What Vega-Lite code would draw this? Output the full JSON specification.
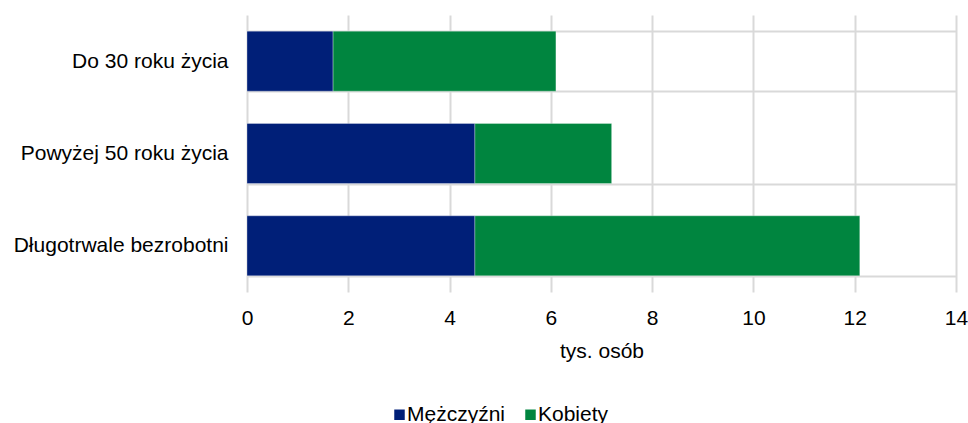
{
  "$schema": "https://vega.github.io/schema/vega-lite/v6.json",
  "autosize": {"type": "none"},
  "width": 709,
  "height": 277,
  "padding": {"left": 247, "top": 15, "right": 12, "bottom": 131},
  "background": "white",
  "config": {
    "font": "Liberation Sans",
    "view": {"stroke": null},
    "axis": {"labelFont": "Liberation Sans", "titleFont": "Liberation Sans", "labelColor": "#000000", "titleColor": "#000000"}
  },
  "data": {
    "values": [
      {"kategoria": "Do 30 roku życia", "płeć": "Mężczyźni", "wartość": 1.7, "kolejność": 0},
      {"kategoria": "Do 30 roku życia", "płeć": "Kobiety", "wartość": 4.4, "kolejność": 1},
      {"kategoria": "Powyżej 50 roku życia", "płeć": "Mężczyźni", "wartość": 4.5, "kolejność": 0},
      {"kategoria": "Powyżej 50 roku życia", "płeć": "Kobiety", "wartość": 2.7, "kolejność": 1},
      {"kategoria": "Długotrwale bezrobotni", "płeć": "Mężczyźni", "wartość": 4.5, "kolejność": 0},
      {"kategoria": "Długotrwale bezrobotni", "płeć": "Kobiety", "wartość": 7.6, "kolejność": 1}
    ]
  },
  "mark": {"type": "bar", "stroke": "white", "strokeWidth": 0.5, "strokeOpacity": 0.6},
  "encoding": {
    "y": {
      "field": "kategoria",
      "type": "nominal",
      "sort": ["Do 30 roku życia", "Powyżej 50 roku życia", "Długotrwale bezrobotni"],
      "scale": {"paddingInner": 0.35, "paddingOuter": 0.175},
      "axis": {
        "title": null,
        "labelFontSize": 21,
        "labelPadding": 19,
        "labelLimit": 0,
        "ticks": false,
        "domain": false,
        "grid": true,
        "tickBand": "extent",
        "gridColor": "#d9d9d9",
        "gridWidth": 2
      }
    },
    "x": {
      "field": "wartość",
      "type": "quantitative",
      "stack": "zero",
      "scale": {"domain": [0, 14], "nice": false},
      "axis": {
        "title": "tys. osób",
        "values": [0, 2, 4, 6, 8, 10, 12, 14],
        "labelFontSize": 21,
        "labelPadding": 15,
        "labelFlush": false,
        "titleFontSize": 21,
        "titleFontWeight": "normal",
        "titlePadding": 12,
        "ticks": false,
        "domain": false,
        "grid": true,
        "gridColor": "#d9d9d9",
        "gridWidth": 2
      }
    },
    "color": {
      "field": "płeć",
      "type": "nominal",
      "scale": {"domain": ["Mężczyźni", "Kobiety"], "range": ["#001f78", "#00853f"]},
      "legend": {
        "title": null,
        "orient": "none",
        "direction": "horizontal",
        "legendX": 142,
        "legendY": 389,
        "symbolType": "square",
        "symbolSize": 110,
        "symbolStrokeWidth": 0,
        "labelFontSize": 21,
        "labelColor": "#000000",
        "labelOffset": -3,
        "columnPadding": 14,
        "padding": 0
      }
    },
    "order": {"field": "kolejność", "type": "quantitative"}
  }
}
